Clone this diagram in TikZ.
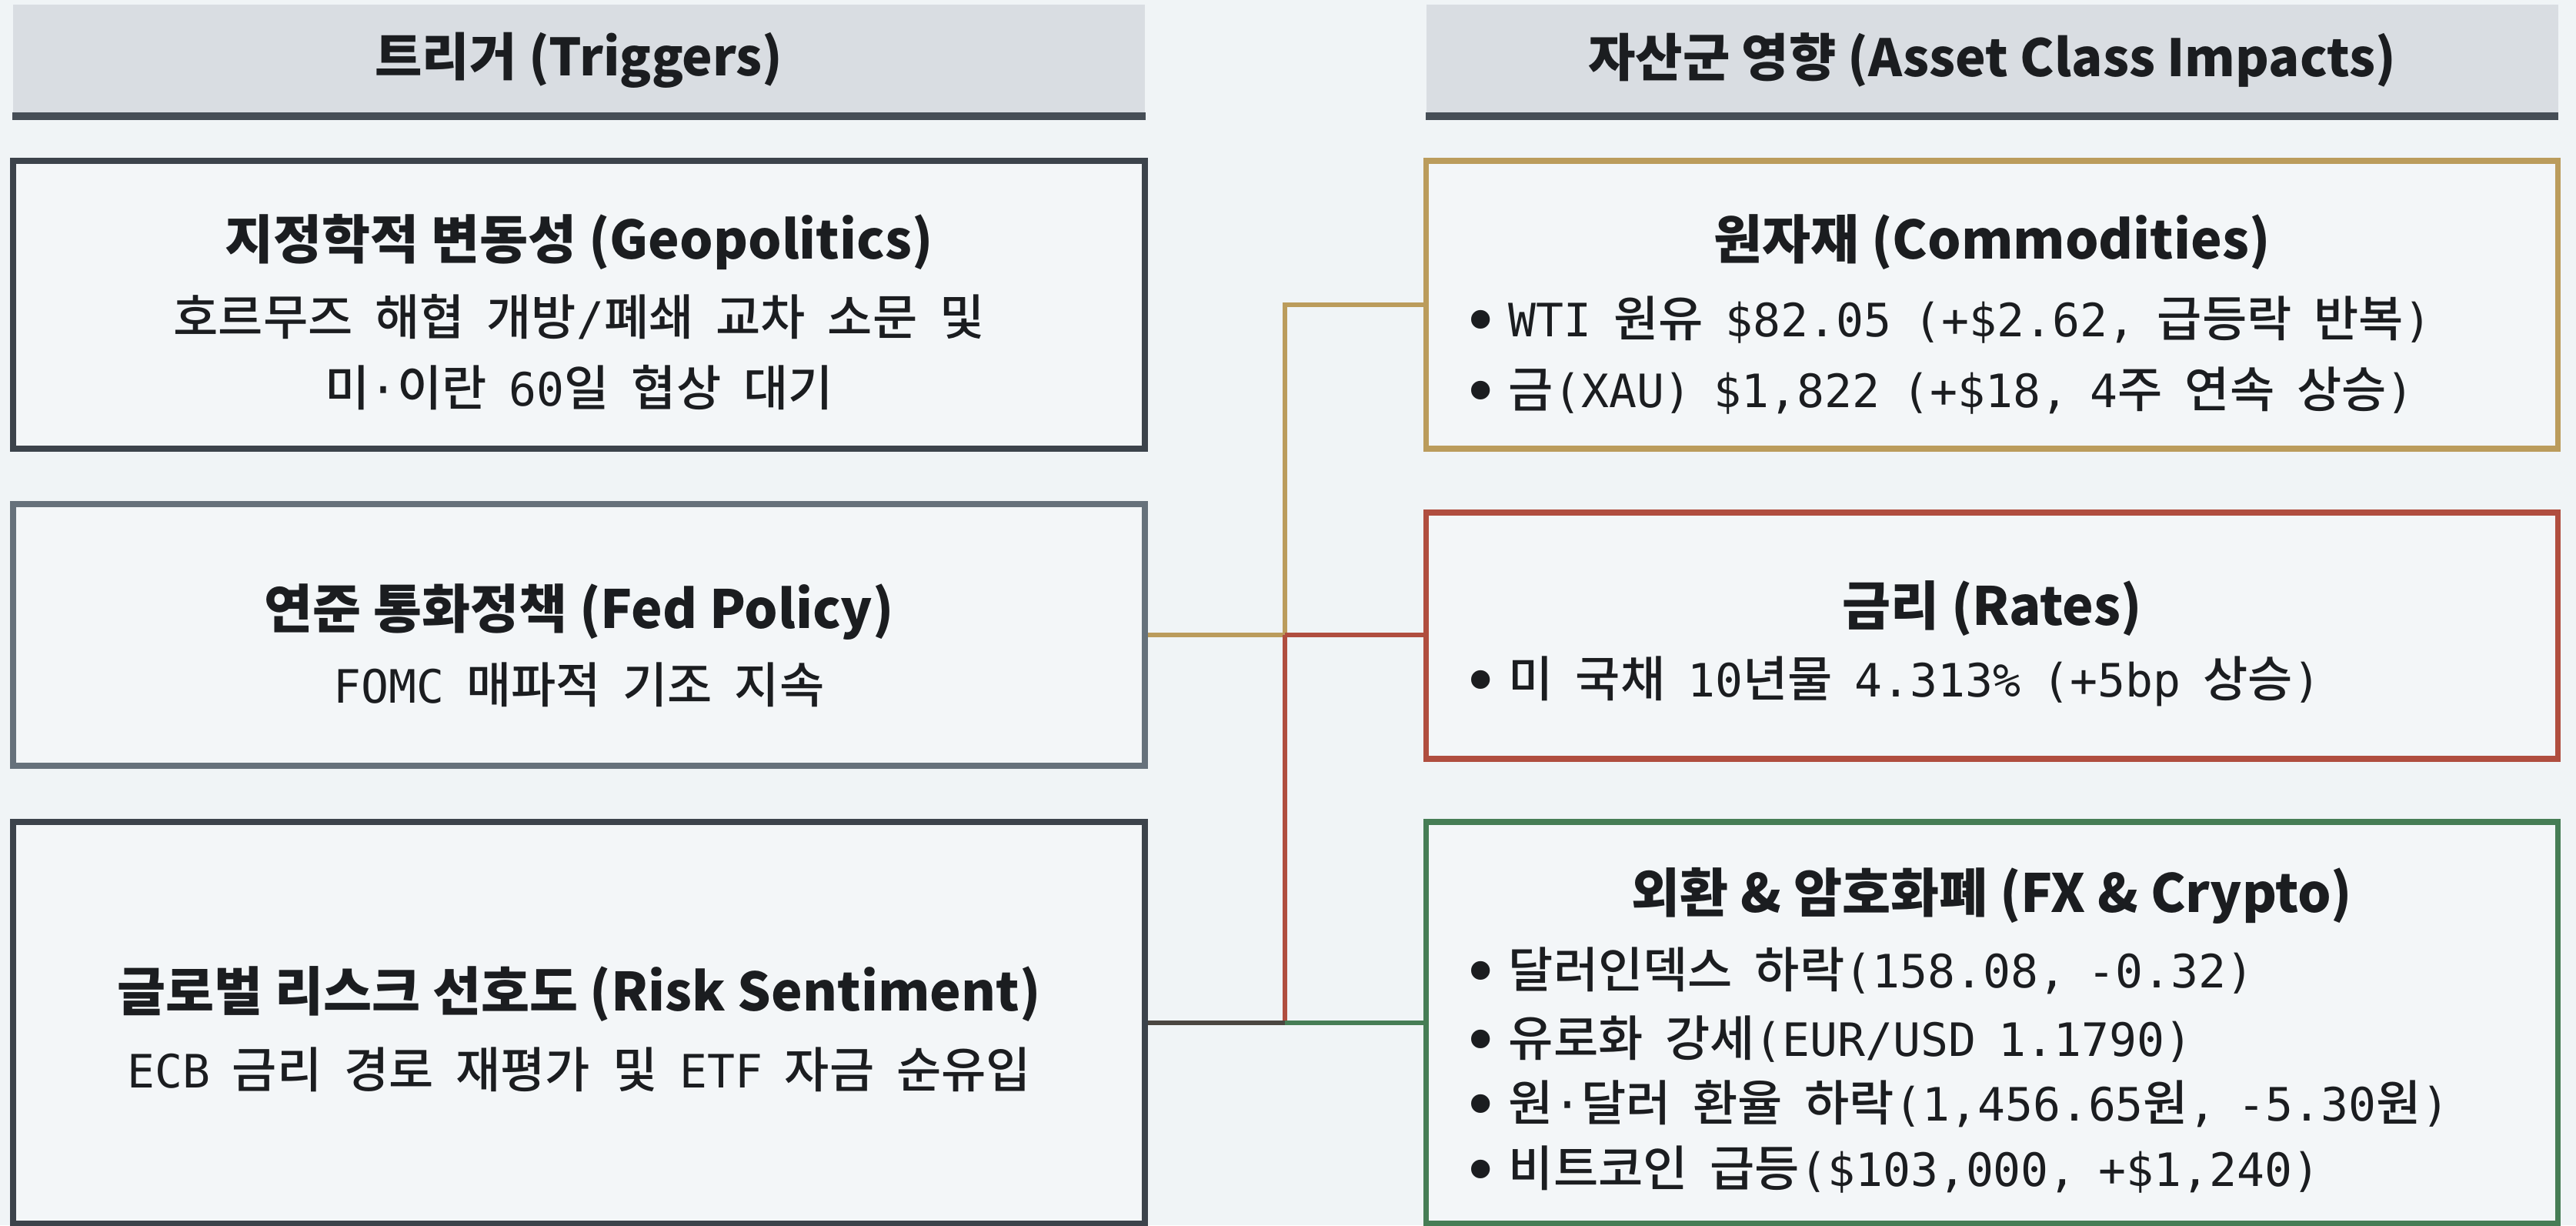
\documentclass[tikz,border=0pt]{standalone}
\usepackage{fontspec}
\setmainfont{Noto Sans CJK KR}
\newfontfamily\hangulfont{Noto Sans CJK KR Medium}[Scale=1.06]
\newfontfamily\monofont{DejaVu Sans Mono}[WordSpace=0.8]
\usetikzlibrary{positioning}

% Hangul in the CJK face, everything else in the mono face
\newXeTeXintercharclass\hangulclass
\newcount\hcode
\hcode="AC00
\loop
  \XeTeXcharclass\hcode=\hangulclass
  \ifnum\hcode<"D7A3 \advance\hcode by 1
\repeat
\XeTeXinterchartoks 0 \hangulclass = {\hangulfont}
\XeTeXinterchartoks 4095 \hangulclass = {\hangulfont}
\XeTeXinterchartoks \hangulclass 0 = {\monofont}
\XeTeXinterchartoks \hangulclass 4095 = {\monofont}
\newcommand\mixtext{\monofont\XeTeXinterchartokenstate=1\relax}
\newcommand\blt{\raisebox{-0.16em}{\scalebox{1.4}{•}}\hspace{0.18em}}

\definecolor{pagebg}{HTML}{F0F4F6}
\definecolor{boxbg}{HTML}{F3F6F8}
\definecolor{hdrgray}{HTML}{D9DDE2}
\definecolor{hdrline}{HTML}{464E56}
\definecolor{trigdark}{HTML}{3C434B}
\definecolor{triglight}{HTML}{66717B}
\definecolor{goldc}{HTML}{BB9C5C}
\definecolor{redc}{HTML}{B04E3F}
\definecolor{greenc}{HTML}{467D55}
\definecolor{linkdark}{HTML}{4B4641}
\definecolor{inkc}{HTML}{1B1D20}

\tikzset{
  header/.style={fill=hdrgray, minimum width=14.71cm, minimum height=1.44cm, inner sep=0pt,
    text=inkc, font=\fontsize{19}{23}\selectfont\bfseries},
  panel/.style={draw=#1, fill=boxbg, line width=2.2pt, minimum width=14.71cm, inner sep=0pt},
  ttl/.style={anchor=base, text=inkc, inner sep=0pt, font=\fontsize{19.5}{23}\selectfont\bfseries},
  txt/.style={anchor=base, text=inkc, inner sep=0pt, font=\fontsize{17}{20}\selectfont\mixtext},
  bulletline/.style={txt, anchor=base west},
  wire/.style={draw=#1, line width=1.7pt}
}

\begin{document}
\begin{tikzpicture}
  \fill[pagebg] (0,0) rectangle (33.48,-15.92);
  \useasboundingbox (0,0) rectangle (33.48,-15.92);

  % column headers
  \node[header] (hleft) at (7.525,-0.78) {트리거 (Triggers)};
  \node[header] (hright) at (25.89,-0.78) {자산군 영향 (Asset Class Impacts)};
  \draw[hdrline, line width=0.1cm] (hleft.south west) -- (hleft.south east);
  \draw[hdrline, line width=0.1cm] (hright.south west) -- (hright.south east);

  % boxes
  \node[panel=trigdark, minimum height=3.74cm] (geo) at (7.525,-3.96) {};
  \node[panel=triglight, minimum height=3.40cm] (fed) at (7.525,-8.25) {};
  \node[panel=trigdark, minimum height=5.22cm] (risk) at (7.525,-13.29) {};
  \node[panel=goldc, minimum height=3.74cm] (com) at (25.89,-3.96) {};
  \node[panel=redc, minimum height=3.20cm] (rat) at (25.89,-8.26) {};
  \node[panel=greenc, minimum height=5.22cm] (fx) at (25.89,-13.29) {};

  % connectors
  \coordinate (jf) at (16.70,-8.25);
  \coordinate (jr) at (16.70,-13.29);
  \draw[wire=goldc] (fed.east) -- (jf) |- (com.west);
  \draw[wire=redc] (jf) -- (jf -| rat.west);
  \draw[wire=redc] (jf) -- (jr);
  \draw[wire=linkdark] (risk.east) -- (jr);
  \draw[wire=greenc] (jr) -- (fx.west);

  % trigger texts
  \node[ttl] (geoT) at (7.525,-3.36) {지정학적 변동성 (Geopolitics)};
  \node[txt] (geoA) at (7.525,-4.35) {호르무즈 해협 개방/폐쇄 교차 소문 및};
  \node[txt] (geoB) at (7.525,-5.27) {미·이란 60일 협상 대기};
  \node[ttl] (fedT) at (7.525,-8.16) {연준 통화정책 (Fed Policy)};
  \node[txt] (fedA) at (7.525,-9.13) {FOMC  매파적 기조 지속};
  \node[ttl] (riskT) at (7.525,-13.13) {글로벌 리스크 선호도 (Risk Sentiment)};
  \node[txt] (riskA) at (7.525,-14.13) {ECB 금리 경로 재평가 및 ETF 자금 순유입};

  % impact texts
  \node[ttl] (comT) at (25.89,-3.36) {원자재 (Commodities)};
  \node[bulletline] (comA) at (18.99,-4.37) {\blt WTI 원유 \$82.05  (+\$2.62, 급등락 반복)};
  \node[bulletline] (comB) at (18.99,-5.29) {\blt 금(XAU) \$1,822  (+\$18, 4주 연속 상승)};
  \node[ttl] (ratT) at (25.89,-8.12) {금리 (Rates)};
  \node[bulletline] (ratA) at (18.99,-9.05) {\blt 미 국채 10년물 4.313\%  (+5bp 상승)};
  \node[ttl] (fxT) at (25.89,-11.85) {외환 \& 암호화폐 (FX \& Crypto)};
  \node[bulletline] (fxA) at (18.99,-12.83) {\blt 달러인덱스 하락(158.08, -0.32)};
  \node[bulletline] (fxB) at (18.99,-13.72) {\blt 유로화 강세(EUR/USD  1.1790)};
  \node[bulletline] (fxC) at (18.99,-14.56) {\blt 원·달러 환율 하락(1,456.65원, -5.30원)};
  \node[bulletline] (fxD) at (18.99,-15.41) {\blt 비트코인 급등(\$103,000, +\$1,240)};
\end{tikzpicture}
\end{document}
